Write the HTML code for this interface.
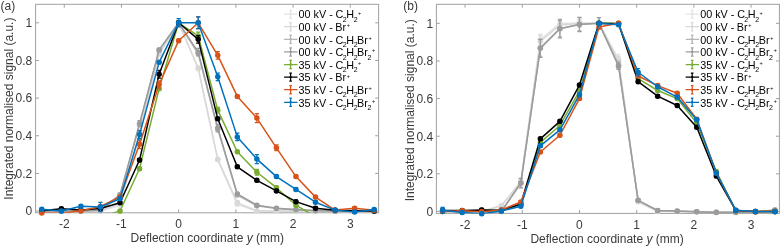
<!DOCTYPE html>
<html><head><meta charset="utf-8"><style>
html,body{margin:0;padding:0;background:#fff;width:781px;height:246px;overflow:hidden}
svg{display:block;will-change:transform}
.t{font-family:"Liberation Sans",sans-serif;font-size:12px;fill:#3a3a3a}
.lg{font-family:"Liberation Sans",sans-serif;font-size:10.8px;fill:#000}
.sub{font-size:7px}.sup{font-size:5.5px}
</style></head><body>
<svg width="781" height="246" viewBox="0 0 781 246">
<defs>
<clipPath id="ca"><rect x="35.6" y="4.3" width="343.00" height="208.50"/></clipPath>
<clipPath id="cb"><rect x="436.40000000000003" y="4.3" width="343.00" height="209.10"/></clipPath>
</defs>
<rect x="35.6" y="4.3" width="343.00" height="208.50" fill="none" stroke="#a0a0a0" stroke-width="1"/>
<path d="M64.26,212.8v-3.4M64.26,4.3v3.4M121.46,212.8v-3.4M121.46,4.3v3.4M178.66,212.8v-3.4M178.66,4.3v3.4M235.86,212.8v-3.4M235.86,4.3v3.4M293.06,212.8v-3.4M293.06,4.3v3.4M350.26,212.8v-3.4M350.26,4.3v3.4M35.6,211.05h3.4M378.6,211.05h-3.4M35.6,173.40h3.4M378.6,173.40h-3.4M35.6,135.75h3.4M378.6,135.75h-3.4M35.6,98.10h3.4M378.6,98.10h-3.4M35.6,60.45h3.4M378.6,60.45h-3.4M35.6,22.80h3.4M378.6,22.80h-3.4" stroke="#a0a0a0" stroke-width="1" fill="none"/>
<rect x="436.40000000000003" y="4.3" width="343.00" height="209.10" fill="none" stroke="#a0a0a0" stroke-width="1"/>
<path d="M465.06,213.4v-3.4M465.06,4.3v3.4M522.26,213.4v-3.4M522.26,4.3v3.4M579.46,213.4v-3.4M579.46,4.3v3.4M636.66,213.4v-3.4M636.66,4.3v3.4M693.86,213.4v-3.4M693.86,4.3v3.4M751.06,213.4v-3.4M751.06,4.3v3.4M436.40000000000003,211.45h3.4M779.4000000000001,211.45h-3.4M436.40000000000003,173.83h3.4M779.4000000000001,173.83h-3.4M436.40000000000003,136.21h3.4M779.4000000000001,136.21h-3.4M436.40000000000003,98.59h3.4M779.4000000000001,98.59h-3.4M436.40000000000003,60.97h3.4M779.4000000000001,60.97h-3.4M436.40000000000003,23.35h3.4M779.4000000000001,23.35h-3.4" stroke="#a0a0a0" stroke-width="1" fill="none"/>
<g>
<path d="M41.81,211.05 L61.36,211.05 L80.91,211.05 L100.46,211.05 L120.01,205.40 L139.56,135.75 L159.11,54.80 L178.66,22.80 L198.21,68.73 L217.76,159.85 L237.31,204.46 L256.86,211.05 L276.41,211.05 L295.96,211.05 L315.51,211.05 L335.06,211.05 L354.61,211.05 L374.16,211.05" fill="none" stroke="#e3e3e3" stroke-width="1.5" stroke-linejoin="round" clip-path="url(#ca)"/>
<path d="M41.81,209.54V212.56M39.71,209.54h4.2M39.71,212.56h4.2M61.36,209.54V212.56M59.26,209.54h4.2M59.26,212.56h4.2M80.91,209.54V212.56M78.81,209.54h4.2M78.81,212.56h4.2M100.46,209.54V212.56M98.36,209.54h4.2M98.36,212.56h4.2M120.01,203.90V206.91M117.91,203.90h4.2M117.91,206.91h4.2M139.56,134.24V137.26M137.46,134.24h4.2M137.46,137.26h4.2M159.11,53.30V56.31M157.01,53.30h4.2M157.01,56.31h4.2M178.66,21.29V24.31M176.56,21.29h4.2M176.56,24.31h4.2M198.21,67.23V70.24M196.11,67.23h4.2M196.11,70.24h4.2M217.76,158.34V161.35M215.66,158.34h4.2M215.66,161.35h4.2M237.31,202.96V205.97M235.21,202.96h4.2M235.21,205.97h4.2M256.86,209.54V212.56M254.76,209.54h4.2M254.76,212.56h4.2M276.41,209.54V212.56M274.31,209.54h4.2M274.31,212.56h4.2M295.96,209.54V212.56M293.86,209.54h4.2M293.86,212.56h4.2M315.51,209.54V212.56M313.41,209.54h4.2M313.41,212.56h4.2M335.06,209.54V212.56M332.96,209.54h4.2M332.96,212.56h4.2M354.61,209.54V212.56M352.51,209.54h4.2M352.51,212.56h4.2M374.16,209.54V212.56M372.06,209.54h4.2M372.06,212.56h4.2" fill="none" stroke="#e3e3e3" stroke-width="1.2"/>
<g fill="#e3e3e3"><circle cx="41.81" cy="211.05" r="2.75"/><circle cx="61.36" cy="211.05" r="2.75"/><circle cx="80.91" cy="211.05" r="2.75"/><circle cx="100.46" cy="211.05" r="2.75"/><circle cx="120.01" cy="205.40" r="2.75"/><circle cx="139.56" cy="135.75" r="2.75"/><circle cx="159.11" cy="54.80" r="2.75"/><circle cx="178.66" cy="22.80" r="2.75"/><circle cx="198.21" cy="68.73" r="2.75"/><circle cx="217.76" cy="159.85" r="2.75"/><circle cx="237.31" cy="204.46" r="2.75"/><circle cx="256.86" cy="211.05" r="2.75"/><circle cx="276.41" cy="211.05" r="2.75"/><circle cx="295.96" cy="211.05" r="2.75"/><circle cx="315.51" cy="211.05" r="2.75"/><circle cx="335.06" cy="211.05" r="2.75"/><circle cx="354.61" cy="211.05" r="2.75"/><circle cx="374.16" cy="211.05" r="2.75"/></g>
<path d="M41.81,211.05 L61.36,211.05 L80.91,211.05 L100.46,211.05 L120.01,203.52 L139.56,131.99 L159.11,52.92 L178.66,22.80 L198.21,67.98 L217.76,159.28 L237.31,202.58 L256.86,211.05 L276.41,211.05 L295.96,211.05 L315.51,211.05 L335.06,211.05 L354.61,211.05 L374.16,211.05" fill="none" stroke="#d8d8d8" stroke-width="1.5" stroke-linejoin="round" clip-path="url(#ca)"/>
<path d="M41.81,209.54V212.56M39.71,209.54h4.2M39.71,212.56h4.2M61.36,209.54V212.56M59.26,209.54h4.2M59.26,212.56h4.2M80.91,209.54V212.56M78.81,209.54h4.2M78.81,212.56h4.2M100.46,209.54V212.56M98.36,209.54h4.2M98.36,212.56h4.2M120.01,202.01V205.03M117.91,202.01h4.2M117.91,205.03h4.2M139.56,130.48V133.49M137.46,130.48h4.2M137.46,133.49h4.2M159.11,51.41V54.43M157.01,51.41h4.2M157.01,54.43h4.2M178.66,21.29V24.31M176.56,21.29h4.2M176.56,24.31h4.2M198.21,66.47V69.49M196.11,66.47h4.2M196.11,69.49h4.2M217.76,157.78V160.79M215.66,157.78h4.2M215.66,160.79h4.2M237.31,201.07V204.08M235.21,201.07h4.2M235.21,204.08h4.2M256.86,209.54V212.56M254.76,209.54h4.2M254.76,212.56h4.2M276.41,209.54V212.56M274.31,209.54h4.2M274.31,212.56h4.2M295.96,209.54V212.56M293.86,209.54h4.2M293.86,212.56h4.2M315.51,209.54V212.56M313.41,209.54h4.2M313.41,212.56h4.2M335.06,209.54V212.56M332.96,209.54h4.2M332.96,212.56h4.2M354.61,209.54V212.56M352.51,209.54h4.2M352.51,212.56h4.2M374.16,209.54V212.56M372.06,209.54h4.2M372.06,212.56h4.2" fill="none" stroke="#d8d8d8" stroke-width="1.2"/>
<g fill="#d8d8d8"><circle cx="41.81" cy="211.05" r="2.75"/><circle cx="61.36" cy="211.05" r="2.75"/><circle cx="80.91" cy="211.05" r="2.75"/><circle cx="100.46" cy="211.05" r="2.75"/><circle cx="120.01" cy="203.52" r="2.75"/><circle cx="139.56" cy="131.99" r="2.75"/><circle cx="159.11" cy="52.92" r="2.75"/><circle cx="178.66" cy="22.80" r="2.75"/><circle cx="198.21" cy="67.98" r="2.75"/><circle cx="217.76" cy="159.28" r="2.75"/><circle cx="237.31" cy="202.58" r="2.75"/><circle cx="256.86" cy="211.05" r="2.75"/><circle cx="276.41" cy="211.05" r="2.75"/><circle cx="295.96" cy="211.05" r="2.75"/><circle cx="315.51" cy="211.05" r="2.75"/><circle cx="335.06" cy="211.05" r="2.75"/><circle cx="354.61" cy="211.05" r="2.75"/><circle cx="374.16" cy="211.05" r="2.75"/></g>
<path d="M41.81,211.05 L61.36,211.05 L80.91,211.05 L100.46,210.49 L120.01,195.99 L139.56,124.46 L159.11,50.10 L178.66,22.80 L198.21,53.86 L217.76,129.16 L237.31,195.05 L256.86,205.78 L276.41,208.60 L295.96,209.92 L315.51,210.67 L335.06,211.05 L354.61,211.05 L374.16,211.05" fill="none" stroke="#b5b5b5" stroke-width="1.5" stroke-linejoin="round" clip-path="url(#ca)"/>
<path d="M41.81,209.54V212.56M39.71,209.54h4.2M39.71,212.56h4.2M61.36,209.54V212.56M59.26,209.54h4.2M59.26,212.56h4.2M80.91,209.54V212.56M78.81,209.54h4.2M78.81,212.56h4.2M100.46,208.98V211.99M98.36,208.98h4.2M98.36,211.99h4.2M120.01,194.48V197.50M117.91,194.48h4.2M117.91,197.50h4.2M139.56,122.95V125.96M137.46,122.95h4.2M137.46,125.96h4.2M159.11,48.59V51.60M157.01,48.59h4.2M157.01,51.60h4.2M178.66,21.29V24.31M176.56,21.29h4.2M176.56,24.31h4.2M198.21,52.36V55.37M196.11,52.36h4.2M196.11,55.37h4.2M217.76,127.66V130.67M215.66,127.66h4.2M215.66,130.67h4.2M237.31,193.54V196.55M235.21,193.54h4.2M235.21,196.55h4.2M256.86,204.27V207.29M254.76,204.27h4.2M254.76,207.29h4.2M276.41,207.10V210.11M274.31,207.10h4.2M274.31,210.11h4.2M295.96,208.41V211.43M293.86,208.41h4.2M293.86,211.43h4.2M315.51,209.17V212.18M313.41,209.17h4.2M313.41,212.18h4.2M335.06,209.54V212.56M332.96,209.54h4.2M332.96,212.56h4.2M354.61,209.54V212.56M352.51,209.54h4.2M352.51,212.56h4.2M374.16,209.54V212.56M372.06,209.54h4.2M372.06,212.56h4.2" fill="none" stroke="#b5b5b5" stroke-width="1.2"/>
<g fill="#b5b5b5"><circle cx="41.81" cy="211.05" r="2.75"/><circle cx="61.36" cy="211.05" r="2.75"/><circle cx="80.91" cy="211.05" r="2.75"/><circle cx="100.46" cy="210.49" r="2.75"/><circle cx="120.01" cy="195.99" r="2.75"/><circle cx="139.56" cy="124.46" r="2.75"/><circle cx="159.11" cy="50.10" r="2.75"/><circle cx="178.66" cy="22.80" r="2.75"/><circle cx="198.21" cy="53.86" r="2.75"/><circle cx="217.76" cy="129.16" r="2.75"/><circle cx="237.31" cy="195.05" r="2.75"/><circle cx="256.86" cy="205.78" r="2.75"/><circle cx="276.41" cy="208.60" r="2.75"/><circle cx="295.96" cy="209.92" r="2.75"/><circle cx="315.51" cy="210.67" r="2.75"/><circle cx="335.06" cy="211.05" r="2.75"/><circle cx="354.61" cy="211.05" r="2.75"/><circle cx="374.16" cy="211.05" r="2.75"/></g>
<path d="M41.81,211.05 L61.36,211.05 L80.91,211.05 L100.46,210.11 L120.01,194.67 L139.56,123.51 L159.11,49.91 L178.66,22.80 L198.21,52.17 L217.76,128.03 L237.31,193.92 L256.86,205.21 L276.41,208.23 L295.96,209.54 L315.51,210.49 L335.06,211.05 L354.61,211.05 L374.16,211.05" fill="none" stroke="#9c9c9c" stroke-width="1.5" stroke-linejoin="round" clip-path="url(#ca)"/>
<path d="M41.81,209.54V212.56M39.71,209.54h4.2M39.71,212.56h4.2M61.36,209.54V212.56M59.26,209.54h4.2M59.26,212.56h4.2M80.91,209.54V212.56M78.81,209.54h4.2M78.81,212.56h4.2M100.46,208.60V211.61M98.36,208.60h4.2M98.36,211.61h4.2M120.01,193.17V196.18M117.91,193.17h4.2M117.91,196.18h4.2M139.56,120.69V126.34M137.46,120.69h4.2M137.46,126.34h4.2M159.11,48.40V51.41M157.01,48.40h4.2M157.01,51.41h4.2M178.66,21.29V24.31M176.56,21.29h4.2M176.56,24.31h4.2M198.21,48.40V55.93M196.11,48.40h4.2M196.11,55.93h4.2M217.76,124.27V131.80M215.66,124.27h4.2M215.66,131.80h4.2M237.31,192.41V195.43M235.21,192.41h4.2M235.21,195.43h4.2M256.86,203.71V206.72M254.76,203.71h4.2M254.76,206.72h4.2M276.41,206.72V209.73M274.31,206.72h4.2M274.31,209.73h4.2M295.96,208.04V211.05M293.86,208.04h4.2M293.86,211.05h4.2M315.51,208.98V211.99M313.41,208.98h4.2M313.41,211.99h4.2M335.06,209.54V212.56M332.96,209.54h4.2M332.96,212.56h4.2M354.61,209.54V212.56M352.51,209.54h4.2M352.51,212.56h4.2M374.16,209.54V212.56M372.06,209.54h4.2M372.06,212.56h4.2" fill="none" stroke="#9c9c9c" stroke-width="1.2"/>
<g fill="#9c9c9c"><circle cx="41.81" cy="211.05" r="2.75"/><circle cx="61.36" cy="211.05" r="2.75"/><circle cx="80.91" cy="211.05" r="2.75"/><circle cx="100.46" cy="210.11" r="2.75"/><circle cx="120.01" cy="194.67" r="2.75"/><circle cx="139.56" cy="123.51" r="2.75"/><circle cx="159.11" cy="49.91" r="2.75"/><circle cx="178.66" cy="22.80" r="2.75"/><circle cx="198.21" cy="52.17" r="2.75"/><circle cx="217.76" cy="128.03" r="2.75"/><circle cx="237.31" cy="193.92" r="2.75"/><circle cx="256.86" cy="205.21" r="2.75"/><circle cx="276.41" cy="208.23" r="2.75"/><circle cx="295.96" cy="209.54" r="2.75"/><circle cx="315.51" cy="210.49" r="2.75"/><circle cx="335.06" cy="211.05" r="2.75"/><circle cx="354.61" cy="211.05" r="2.75"/><circle cx="374.16" cy="211.05" r="2.75"/></g>
<path d="M41.81,217.64 L61.36,217.64 L80.91,217.64 L100.46,217.26 L120.01,211.05 L139.56,168.69 L159.11,88.69 L178.66,22.80 L198.21,35.98 L217.76,110.15 L237.31,151.75 L256.86,172.27 L276.41,187.71 L295.96,205.21 L315.51,216.70 L335.06,216.70 L354.61,216.70 L374.16,216.70" fill="none" stroke="#77ac30" stroke-width="1.5" stroke-linejoin="round" clip-path="url(#ca)"/>
<path d="M120.01,209.54V212.56M117.91,209.54h4.2M117.91,212.56h4.2M139.56,167.19V170.20M137.46,167.19h4.2M137.46,170.20h4.2M159.11,87.18V90.19M157.01,87.18h4.2M157.01,90.19h4.2M178.66,21.29V24.31M176.56,21.29h4.2M176.56,24.31h4.2M198.21,32.21V39.74M196.11,32.21h4.2M196.11,39.74h4.2M217.76,107.32V112.97M215.66,107.32h4.2M215.66,112.97h4.2M237.31,150.25V153.26M235.21,150.25h4.2M235.21,153.26h4.2M256.86,169.45V175.09M254.76,169.45h4.2M254.76,175.09h4.2M276.41,186.20V189.21M274.31,186.20h4.2M274.31,189.21h4.2M295.96,203.71V206.72M293.86,203.71h4.2M293.86,206.72h4.2" fill="none" stroke="#77ac30" stroke-width="1.2"/>
<g fill="#77ac30"><circle cx="120.01" cy="211.05" r="2.75"/><circle cx="139.56" cy="168.69" r="2.75"/><circle cx="159.11" cy="88.69" r="2.75"/><circle cx="178.66" cy="22.80" r="2.75"/><circle cx="198.21" cy="35.98" r="2.75"/><circle cx="217.76" cy="110.15" r="2.75"/><circle cx="237.31" cy="151.75" r="2.75"/><circle cx="256.86" cy="172.27" r="2.75"/><circle cx="276.41" cy="187.71" r="2.75"/><circle cx="295.96" cy="205.21" r="2.75"/></g>
<path d="M41.81,210.67 L61.36,208.79 L80.91,210.11 L100.46,208.41 L120.01,202.77 L139.56,160.03 L159.11,74.19 L178.66,22.80 L198.21,39.37 L217.76,118.81 L237.31,166.81 L256.86,180.37 L276.41,190.91 L295.96,201.64 L315.51,208.23 L335.06,210.30 L354.61,210.67 L374.16,211.05" fill="none" stroke="#000000" stroke-width="1.5" stroke-linejoin="round" clip-path="url(#ca)"/>
<path d="M41.81,209.17V212.18M39.71,209.17h4.2M39.71,212.18h4.2M61.36,207.29V210.30M59.26,207.29h4.2M59.26,210.30h4.2M80.91,208.60V211.61M78.81,208.60h4.2M78.81,211.61h4.2M100.46,206.91V209.92M98.36,206.91h4.2M98.36,209.92h4.2M120.01,201.26V204.27M117.91,201.26h4.2M117.91,204.27h4.2M139.56,158.53V161.54M137.46,158.53h4.2M137.46,161.54h4.2M159.11,70.24V78.15M157.01,70.24h4.2M157.01,78.15h4.2M178.66,21.29V24.31M176.56,21.29h4.2M176.56,24.31h4.2M198.21,35.60V43.13M196.11,35.60h4.2M196.11,43.13h4.2M217.76,117.30V120.31M215.66,117.30h4.2M215.66,120.31h4.2M237.31,165.31V168.32M235.21,165.31h4.2M235.21,168.32h4.2M256.86,178.86V181.87M254.76,178.86h4.2M254.76,181.87h4.2M276.41,189.40V192.41M274.31,189.40h4.2M274.31,192.41h4.2M295.96,200.13V203.14M293.86,200.13h4.2M293.86,203.14h4.2M315.51,206.72V209.73M313.41,206.72h4.2M313.41,209.73h4.2M335.06,208.79V211.80M332.96,208.79h4.2M332.96,211.80h4.2M354.61,209.17V212.18M352.51,209.17h4.2M352.51,212.18h4.2M374.16,209.54V212.56M372.06,209.54h4.2M372.06,212.56h4.2" fill="none" stroke="#000000" stroke-width="1.2"/>
<g fill="#000000"><circle cx="41.81" cy="210.67" r="2.75"/><circle cx="61.36" cy="208.79" r="2.75"/><circle cx="80.91" cy="210.11" r="2.75"/><circle cx="100.46" cy="208.41" r="2.75"/><circle cx="120.01" cy="202.77" r="2.75"/><circle cx="139.56" cy="160.03" r="2.75"/><circle cx="159.11" cy="74.19" r="2.75"/><circle cx="178.66" cy="22.80" r="2.75"/><circle cx="198.21" cy="39.37" r="2.75"/><circle cx="217.76" cy="118.81" r="2.75"/><circle cx="237.31" cy="166.81" r="2.75"/><circle cx="256.86" cy="180.37" r="2.75"/><circle cx="276.41" cy="190.91" r="2.75"/><circle cx="295.96" cy="201.64" r="2.75"/><circle cx="315.51" cy="208.23" r="2.75"/><circle cx="335.06" cy="210.30" r="2.75"/><circle cx="354.61" cy="210.67" r="2.75"/><circle cx="374.16" cy="211.05" r="2.75"/></g>
<path d="M41.81,212.93 L61.36,213.31 L80.91,210.86 L100.46,206.53 L120.01,196.93 L139.56,144.22 L159.11,84.55 L178.66,40.68 L198.21,22.80 L217.76,55.37 L237.31,96.41 L256.86,118.05 L276.41,147.80 L295.96,176.60 L315.51,197.12 L335.06,210.11 L354.61,208.23 L374.16,210.30" fill="none" stroke="#d95319" stroke-width="1.5" stroke-linejoin="round" clip-path="url(#ca)"/>
<path d="M41.81,211.43V214.44M39.71,211.43h4.2M39.71,214.44h4.2M80.91,209.36V212.37M78.81,209.36h4.2M78.81,212.37h4.2M100.46,205.03V208.04M98.36,205.03h4.2M98.36,208.04h4.2M120.01,195.43V198.44M117.91,195.43h4.2M117.91,198.44h4.2M139.56,139.89V148.55M137.46,139.89h4.2M137.46,148.55h4.2M159.11,80.97V88.12M157.01,80.97h4.2M157.01,88.12h4.2M178.66,39.18V42.19M176.56,39.18h4.2M176.56,42.19h4.2M198.21,16.96V28.64M196.11,16.96h4.2M196.11,28.64h4.2M217.76,51.60V59.13M215.66,51.60h4.2M215.66,59.13h4.2M237.31,94.90V97.91M235.21,94.90h4.2M235.21,97.91h4.2M256.86,113.54V122.57M254.76,113.54h4.2M254.76,122.57h4.2M276.41,144.97V150.62M274.31,144.97h4.2M274.31,150.62h4.2M295.96,175.09V178.11M293.86,175.09h4.2M293.86,178.11h4.2M315.51,195.61V198.63M313.41,195.61h4.2M313.41,198.63h4.2M335.06,208.60V211.61M332.96,208.60h4.2M332.96,211.61h4.2M354.61,206.72V209.73M352.51,206.72h4.2M352.51,209.73h4.2M374.16,208.79V211.80M372.06,208.79h4.2M372.06,211.80h4.2" fill="none" stroke="#d95319" stroke-width="1.2"/>
<g fill="#d95319"><circle cx="41.81" cy="212.93" r="2.75"/><circle cx="80.91" cy="210.86" r="2.75"/><circle cx="100.46" cy="206.53" r="2.75"/><circle cx="120.01" cy="196.93" r="2.75"/><circle cx="139.56" cy="144.22" r="2.75"/><circle cx="159.11" cy="84.55" r="2.75"/><circle cx="178.66" cy="40.68" r="2.75"/><circle cx="198.21" cy="22.80" r="2.75"/><circle cx="217.76" cy="55.37" r="2.75"/><circle cx="237.31" cy="96.41" r="2.75"/><circle cx="256.86" cy="118.05" r="2.75"/><circle cx="276.41" cy="147.80" r="2.75"/><circle cx="295.96" cy="176.60" r="2.75"/><circle cx="315.51" cy="197.12" r="2.75"/><circle cx="335.06" cy="210.11" r="2.75"/><circle cx="354.61" cy="208.23" r="2.75"/><circle cx="374.16" cy="210.30" r="2.75"/></g>
<path d="M41.81,209.26 L61.36,211.05 L80.91,206.34 L100.46,206.91 L120.01,198.81 L139.56,134.62 L159.11,62.33 L178.66,22.80 L198.21,22.80 L217.76,76.83 L237.31,136.88 L256.86,159.09 L276.41,176.60 L295.96,189.40 L315.51,202.20 L335.06,210.11 L354.61,211.99 L374.16,209.54" fill="none" stroke="#0072bd" stroke-width="1.5" stroke-linejoin="round" clip-path="url(#ca)"/>
<path d="M41.81,207.76V210.77M39.71,207.76h4.2M39.71,210.77h4.2M61.36,209.54V212.56M59.26,209.54h4.2M59.26,212.56h4.2M80.91,204.84V207.85M78.81,204.84h4.2M78.81,207.85h4.2M100.46,202.39V211.43M98.36,202.39h4.2M98.36,211.43h4.2M120.01,197.31V200.32M117.91,197.31h4.2M117.91,200.32h4.2M139.56,130.67V138.57M137.46,130.67h4.2M137.46,138.57h4.2M159.11,60.83V63.84M157.01,60.83h4.2M157.01,63.84h4.2M178.66,18.66V26.94M176.56,18.66h4.2M176.56,26.94h4.2M198.21,16.96V28.64M196.11,16.96h4.2M196.11,28.64h4.2M217.76,73.06V80.59M215.66,73.06h4.2M215.66,80.59h4.2M237.31,133.11V140.64M235.21,133.11h4.2M235.21,140.64h4.2M256.86,154.58V163.61M254.76,154.58h4.2M254.76,163.61h4.2M276.41,175.09V178.11M274.31,175.09h4.2M274.31,178.11h4.2M295.96,187.90V190.91M293.86,187.90h4.2M293.86,190.91h4.2M315.51,200.70V203.71M313.41,200.70h4.2M313.41,203.71h4.2M335.06,208.60V211.61M332.96,208.60h4.2M332.96,211.61h4.2M354.61,210.49V213.50M352.51,210.49h4.2M352.51,213.50h4.2M374.16,208.04V211.05M372.06,208.04h4.2M372.06,211.05h4.2" fill="none" stroke="#0072bd" stroke-width="1.2"/>
<g fill="#0072bd"><circle cx="41.81" cy="209.26" r="2.75"/><circle cx="61.36" cy="211.05" r="2.75"/><circle cx="80.91" cy="206.34" r="2.75"/><circle cx="100.46" cy="206.91" r="2.75"/><circle cx="120.01" cy="198.81" r="2.75"/><circle cx="139.56" cy="134.62" r="2.75"/><circle cx="159.11" cy="62.33" r="2.75"/><circle cx="178.66" cy="22.80" r="2.75"/><circle cx="198.21" cy="22.80" r="2.75"/><circle cx="217.76" cy="76.83" r="2.75"/><circle cx="237.31" cy="136.88" r="2.75"/><circle cx="256.86" cy="159.09" r="2.75"/><circle cx="276.41" cy="176.60" r="2.75"/><circle cx="295.96" cy="189.40" r="2.75"/><circle cx="315.51" cy="202.20" r="2.75"/><circle cx="335.06" cy="210.11" r="2.75"/><circle cx="354.61" cy="211.99" r="2.75"/><circle cx="374.16" cy="209.54" r="2.75"/></g>
</g>
<g>
<path d="M442.61,211.45 L462.16,211.45 L481.71,211.45 L501.26,205.81 L520.81,181.35 L540.36,39.71 L559.91,23.35 L579.46,23.35 L599.01,23.35 L618.56,59.09 L638.11,202.04 L657.66,211.45 L677.21,211.45 L696.76,211.83 L716.31,212.01 L735.86,212.01 L755.41,212.01 L774.96,210.70" fill="none" stroke="#e3e3e3" stroke-width="1.5" stroke-linejoin="round" clip-path="url(#cb)"/>
<path d="M442.61,209.95V212.95M440.51,209.95h4.2M440.51,212.95h4.2M462.16,209.95V212.95M460.06,209.95h4.2M460.06,212.95h4.2M481.71,209.95V212.95M479.61,209.95h4.2M479.61,212.95h4.2M501.26,204.30V207.31M499.16,204.30h4.2M499.16,207.31h4.2M520.81,179.85V182.86M518.71,179.85h4.2M518.71,182.86h4.2M540.36,34.07V45.36M538.26,34.07h4.2M538.26,45.36h4.2M559.91,18.65V28.05M557.81,18.65h4.2M557.81,28.05h4.2M579.46,19.59V27.11M577.36,19.59h4.2M577.36,27.11h4.2M599.01,21.85V24.85M596.91,21.85h4.2M596.91,24.85h4.2M618.56,54.39V63.79M616.46,54.39h4.2M616.46,63.79h4.2M638.11,200.54V203.55M636.01,200.54h4.2M636.01,203.55h4.2M657.66,209.95V212.95M655.56,209.95h4.2M655.56,212.95h4.2M677.21,209.95V212.95M675.11,209.95h4.2M675.11,212.95h4.2M696.76,210.32V213.33M694.66,210.32h4.2M694.66,213.33h4.2M716.31,210.51V213.52M714.21,210.51h4.2M714.21,213.52h4.2M735.86,210.51V213.52M733.76,210.51h4.2M733.76,213.52h4.2M755.41,210.51V213.52M753.31,210.51h4.2M753.31,213.52h4.2M774.96,209.19V212.20M772.86,209.19h4.2M772.86,212.20h4.2" fill="none" stroke="#e3e3e3" stroke-width="1.2"/>
<g fill="#e3e3e3"><circle cx="442.61" cy="211.45" r="2.75"/><circle cx="462.16" cy="211.45" r="2.75"/><circle cx="481.71" cy="211.45" r="2.75"/><circle cx="501.26" cy="205.81" r="2.75"/><circle cx="520.81" cy="181.35" r="2.75"/><circle cx="540.36" cy="39.71" r="2.75"/><circle cx="559.91" cy="23.35" r="2.75"/><circle cx="579.46" cy="23.35" r="2.75"/><circle cx="599.01" cy="23.35" r="2.75"/><circle cx="618.56" cy="59.09" r="2.75"/><circle cx="638.11" cy="202.04" r="2.75"/><circle cx="657.66" cy="211.45" r="2.75"/><circle cx="677.21" cy="211.45" r="2.75"/><circle cx="696.76" cy="211.83" r="2.75"/><circle cx="716.31" cy="212.01" r="2.75"/><circle cx="735.86" cy="212.01" r="2.75"/><circle cx="755.41" cy="212.01" r="2.75"/><circle cx="774.96" cy="210.70" r="2.75"/></g>
<path d="M442.61,211.45 L462.16,211.45 L481.71,211.45 L501.26,205.81 L520.81,182.29 L540.36,41.22 L559.91,25.23 L579.46,23.35 L599.01,23.35 L618.56,60.97 L638.11,201.10 L657.66,211.07 L677.21,211.45 L696.76,211.83 L716.31,212.01 L735.86,212.01 L755.41,212.01 L774.96,210.70" fill="none" stroke="#d8d8d8" stroke-width="1.5" stroke-linejoin="round" clip-path="url(#cb)"/>
<path d="M442.61,209.95V212.95M440.51,209.95h4.2M440.51,212.95h4.2M462.16,209.95V212.95M460.06,209.95h4.2M460.06,212.95h4.2M481.71,209.95V212.95M479.61,209.95h4.2M479.61,212.95h4.2M501.26,204.30V207.31M499.16,204.30h4.2M499.16,207.31h4.2M520.81,180.79V183.80M518.71,180.79h4.2M518.71,183.80h4.2M540.36,35.58V46.86M538.26,35.58h4.2M538.26,46.86h4.2M559.91,21.47V28.99M557.81,21.47h4.2M557.81,28.99h4.2M579.46,19.59V27.11M577.36,19.59h4.2M577.36,27.11h4.2M599.01,21.85V24.85M596.91,21.85h4.2M596.91,24.85h4.2M618.56,56.27V65.67M616.46,56.27h4.2M616.46,65.67h4.2M638.11,199.60V202.61M636.01,199.60h4.2M636.01,202.61h4.2M657.66,209.57V212.58M655.56,209.57h4.2M655.56,212.58h4.2M677.21,209.95V212.95M675.11,209.95h4.2M675.11,212.95h4.2M696.76,210.32V213.33M694.66,210.32h4.2M694.66,213.33h4.2M716.31,210.51V213.52M714.21,210.51h4.2M714.21,213.52h4.2M735.86,210.51V213.52M733.76,210.51h4.2M733.76,213.52h4.2M755.41,210.51V213.52M753.31,210.51h4.2M753.31,213.52h4.2M774.96,209.19V212.20M772.86,209.19h4.2M772.86,212.20h4.2" fill="none" stroke="#d8d8d8" stroke-width="1.2"/>
<g fill="#d8d8d8"><circle cx="442.61" cy="211.45" r="2.75"/><circle cx="462.16" cy="211.45" r="2.75"/><circle cx="481.71" cy="211.45" r="2.75"/><circle cx="501.26" cy="205.81" r="2.75"/><circle cx="520.81" cy="182.29" r="2.75"/><circle cx="540.36" cy="41.22" r="2.75"/><circle cx="559.91" cy="25.23" r="2.75"/><circle cx="579.46" cy="23.35" r="2.75"/><circle cx="599.01" cy="23.35" r="2.75"/><circle cx="618.56" cy="60.97" r="2.75"/><circle cx="638.11" cy="201.10" r="2.75"/><circle cx="657.66" cy="211.07" r="2.75"/><circle cx="677.21" cy="211.45" r="2.75"/><circle cx="696.76" cy="211.83" r="2.75"/><circle cx="716.31" cy="212.01" r="2.75"/><circle cx="735.86" cy="212.01" r="2.75"/><circle cx="755.41" cy="212.01" r="2.75"/><circle cx="774.96" cy="210.70" r="2.75"/></g>
<path d="M442.61,211.45 L462.16,211.45 L481.71,211.45 L501.26,211.45 L520.81,183.23 L540.36,47.80 L559.91,28.62 L579.46,24.29 L599.01,23.35 L618.56,65.11 L638.11,200.54 L657.66,210.70 L677.21,211.26 L696.76,211.83 L716.31,212.20 L735.86,212.20 L755.41,212.01 L774.96,210.32" fill="none" stroke="#b5b5b5" stroke-width="1.5" stroke-linejoin="round" clip-path="url(#cb)"/>
<path d="M442.61,209.95V212.95M440.51,209.95h4.2M440.51,212.95h4.2M462.16,209.95V212.95M460.06,209.95h4.2M460.06,212.95h4.2M481.71,209.95V212.95M479.61,209.95h4.2M479.61,212.95h4.2M501.26,209.95V212.95M499.16,209.95h4.2M499.16,212.95h4.2M520.81,178.53V187.94M518.71,178.53h4.2M518.71,187.94h4.2M540.36,39.34V56.27M538.26,39.34h4.2M538.26,56.27h4.2M559.91,20.15V37.08M557.81,20.15h4.2M557.81,37.08h4.2M579.46,17.71V30.87M577.36,17.71h4.2M577.36,30.87h4.2M599.01,17.71V28.99M596.91,17.71h4.2M596.91,28.99h4.2M618.56,61.35V68.87M616.46,61.35h4.2M616.46,68.87h4.2M638.11,199.04V202.04M636.01,199.04h4.2M636.01,202.04h4.2M657.66,209.19V212.20M655.56,209.19h4.2M655.56,212.20h4.2M677.21,209.76V212.77M675.11,209.76h4.2M675.11,212.77h4.2M696.76,210.32V213.33M694.66,210.32h4.2M694.66,213.33h4.2M716.31,210.70V213.71M714.21,210.70h4.2M714.21,213.71h4.2M735.86,210.70V213.71M733.76,210.70h4.2M733.76,213.71h4.2M755.41,210.51V213.52M753.31,210.51h4.2M753.31,213.52h4.2M774.96,208.82V211.83M772.86,208.82h4.2M772.86,211.83h4.2" fill="none" stroke="#b5b5b5" stroke-width="1.2"/>
<g fill="#b5b5b5"><circle cx="442.61" cy="211.45" r="2.75"/><circle cx="462.16" cy="211.45" r="2.75"/><circle cx="481.71" cy="211.45" r="2.75"/><circle cx="501.26" cy="211.45" r="2.75"/><circle cx="520.81" cy="183.23" r="2.75"/><circle cx="540.36" cy="47.80" r="2.75"/><circle cx="559.91" cy="28.62" r="2.75"/><circle cx="579.46" cy="24.29" r="2.75"/><circle cx="599.01" cy="23.35" r="2.75"/><circle cx="618.56" cy="65.11" r="2.75"/><circle cx="638.11" cy="200.54" r="2.75"/><circle cx="657.66" cy="210.70" r="2.75"/><circle cx="677.21" cy="211.26" r="2.75"/><circle cx="696.76" cy="211.83" r="2.75"/><circle cx="716.31" cy="212.20" r="2.75"/><circle cx="735.86" cy="212.20" r="2.75"/><circle cx="755.41" cy="212.01" r="2.75"/><circle cx="774.96" cy="210.32" r="2.75"/></g>
<path d="M442.61,211.45 L462.16,211.45 L481.71,211.45 L501.26,211.45 L520.81,183.05 L540.36,48.37 L559.91,28.80 L579.46,24.48 L599.01,23.35 L618.56,66.24 L638.11,200.35 L657.66,210.51 L677.21,211.07 L696.76,211.83 L716.31,212.39 L735.86,212.39 L755.41,212.01 L774.96,209.95" fill="none" stroke="#9c9c9c" stroke-width="1.5" stroke-linejoin="round" clip-path="url(#cb)"/>
<path d="M442.61,209.95V212.95M440.51,209.95h4.2M440.51,212.95h4.2M462.16,209.95V212.95M460.06,209.95h4.2M460.06,212.95h4.2M481.71,209.95V212.95M479.61,209.95h4.2M479.61,212.95h4.2M501.26,209.95V212.95M499.16,209.95h4.2M499.16,212.95h4.2M520.81,178.34V187.75M518.71,178.34h4.2M518.71,187.75h4.2M540.36,39.34V57.40M538.26,39.34h4.2M538.26,57.40h4.2M559.91,19.78V37.83M557.81,19.78h4.2M557.81,37.83h4.2M579.46,17.33V31.63M577.36,17.33h4.2M577.36,31.63h4.2M599.01,17.71V28.99M596.91,17.71h4.2M596.91,28.99h4.2M618.56,63.04V69.43M616.46,63.04h4.2M616.46,69.43h4.2M638.11,198.85V201.86M636.01,198.85h4.2M636.01,201.86h4.2M657.66,209.00V212.01M655.56,209.00h4.2M655.56,212.01h4.2M677.21,209.57V212.58M675.11,209.57h4.2M675.11,212.58h4.2M696.76,210.32V213.33M694.66,210.32h4.2M694.66,213.33h4.2M716.31,210.89V213.90M714.21,210.89h4.2M714.21,213.90h4.2M735.86,210.89V213.90M733.76,210.89h4.2M733.76,213.90h4.2M755.41,210.51V213.52M753.31,210.51h4.2M753.31,213.52h4.2M774.96,208.44V211.45M772.86,208.44h4.2M772.86,211.45h4.2" fill="none" stroke="#9c9c9c" stroke-width="1.2"/>
<g fill="#9c9c9c"><circle cx="442.61" cy="211.45" r="2.75"/><circle cx="462.16" cy="211.45" r="2.75"/><circle cx="481.71" cy="211.45" r="2.75"/><circle cx="501.26" cy="211.45" r="2.75"/><circle cx="520.81" cy="183.05" r="2.75"/><circle cx="540.36" cy="48.37" r="2.75"/><circle cx="559.91" cy="28.80" r="2.75"/><circle cx="579.46" cy="24.48" r="2.75"/><circle cx="599.01" cy="23.35" r="2.75"/><circle cx="618.56" cy="66.24" r="2.75"/><circle cx="638.11" cy="200.35" r="2.75"/><circle cx="657.66" cy="210.51" r="2.75"/><circle cx="677.21" cy="211.07" r="2.75"/><circle cx="696.76" cy="211.83" r="2.75"/><circle cx="716.31" cy="212.39" r="2.75"/><circle cx="735.86" cy="212.39" r="2.75"/><circle cx="755.41" cy="212.01" r="2.75"/><circle cx="774.96" cy="209.95" r="2.75"/></g>
<path d="M442.61,211.07 L462.16,211.45 L481.71,210.51 L501.26,210.51 L520.81,204.87 L540.36,142.42 L559.91,125.49 L579.46,91.07 L599.01,23.35 L618.56,23.35 L638.11,78.65 L657.66,90.50 L677.21,98.59 L696.76,123.04 L716.31,171.57 L735.86,210.70 L755.41,211.45 L774.96,211.45" fill="none" stroke="#77ac30" stroke-width="1.5" stroke-linejoin="round" clip-path="url(#cb)"/>
<path d="M442.61,209.57V212.58M440.51,209.57h4.2M440.51,212.58h4.2M462.16,209.95V212.95M460.06,209.95h4.2M460.06,212.95h4.2M481.71,209.00V212.01M479.61,209.00h4.2M479.61,212.01h4.2M501.26,209.00V212.01M499.16,209.00h4.2M499.16,212.01h4.2M520.81,203.36V206.37M518.71,203.36h4.2M518.71,206.37h4.2M540.36,140.91V143.92M538.26,140.91h4.2M538.26,143.92h4.2M559.91,123.98V126.99M557.81,123.98h4.2M557.81,126.99h4.2M579.46,89.56V92.57M577.36,89.56h4.2M577.36,92.57h4.2M599.01,21.85V24.85M596.91,21.85h4.2M596.91,24.85h4.2M618.56,21.85V24.85M616.46,21.85h4.2M616.46,24.85h4.2M638.11,77.15V80.16M636.01,77.15h4.2M636.01,80.16h4.2M657.66,89.00V92.01M655.56,89.00h4.2M655.56,92.01h4.2M677.21,97.09V100.09M675.11,97.09h4.2M675.11,100.09h4.2M696.76,121.54V124.55M694.66,121.54h4.2M694.66,124.55h4.2M716.31,170.07V173.08M714.21,170.07h4.2M714.21,173.08h4.2M735.86,209.19V212.20M733.76,209.19h4.2M733.76,212.20h4.2M755.41,209.95V212.95M753.31,209.95h4.2M753.31,212.95h4.2M774.96,209.95V212.95M772.86,209.95h4.2M772.86,212.95h4.2" fill="none" stroke="#77ac30" stroke-width="1.2"/>
<g fill="#77ac30"><circle cx="442.61" cy="211.07" r="2.75"/><circle cx="462.16" cy="211.45" r="2.75"/><circle cx="481.71" cy="210.51" r="2.75"/><circle cx="501.26" cy="210.51" r="2.75"/><circle cx="520.81" cy="204.87" r="2.75"/><circle cx="540.36" cy="142.42" r="2.75"/><circle cx="559.91" cy="125.49" r="2.75"/><circle cx="579.46" cy="91.07" r="2.75"/><circle cx="599.01" cy="23.35" r="2.75"/><circle cx="618.56" cy="23.35" r="2.75"/><circle cx="638.11" cy="78.65" r="2.75"/><circle cx="657.66" cy="90.50" r="2.75"/><circle cx="677.21" cy="98.59" r="2.75"/><circle cx="696.76" cy="123.04" r="2.75"/><circle cx="716.31" cy="171.57" r="2.75"/><circle cx="735.86" cy="210.70" r="2.75"/><circle cx="755.41" cy="211.45" r="2.75"/><circle cx="774.96" cy="211.45" r="2.75"/></g>
<path d="M442.61,210.51 L462.16,210.51 L481.71,209.95 L501.26,210.32 L520.81,203.93 L540.36,138.84 L559.91,121.35 L579.46,85.05 L599.01,23.35 L618.56,23.73 L638.11,81.66 L657.66,96.14 L677.21,105.55 L696.76,127.18 L716.31,176.09 L735.86,210.51 L755.41,211.45 L774.96,211.45" fill="none" stroke="#000000" stroke-width="1.5" stroke-linejoin="round" clip-path="url(#cb)"/>
<path d="M442.61,209.00V212.01M440.51,209.00h4.2M440.51,212.01h4.2M462.16,209.00V212.01M460.06,209.00h4.2M460.06,212.01h4.2M481.71,208.44V211.45M479.61,208.44h4.2M479.61,211.45h4.2M501.26,208.82V211.83M499.16,208.82h4.2M499.16,211.83h4.2M520.81,202.42V205.43M518.71,202.42h4.2M518.71,205.43h4.2M540.36,137.34V140.35M538.26,137.34h4.2M538.26,140.35h4.2M559.91,119.85V122.85M557.81,119.85h4.2M557.81,122.85h4.2M579.46,83.54V86.55M577.36,83.54h4.2M577.36,86.55h4.2M599.01,21.85V24.85M596.91,21.85h4.2M596.91,24.85h4.2M618.56,22.22V25.23M616.46,22.22h4.2M616.46,25.23h4.2M638.11,80.16V83.17M636.01,80.16h4.2M636.01,83.17h4.2M657.66,94.64V97.65M655.56,94.64h4.2M655.56,97.65h4.2M677.21,104.04V107.05M675.11,104.04h4.2M675.11,107.05h4.2M696.76,125.68V128.69M694.66,125.68h4.2M694.66,128.69h4.2M716.31,174.58V177.59M714.21,174.58h4.2M714.21,177.59h4.2M735.86,209.00V212.01M733.76,209.00h4.2M733.76,212.01h4.2M755.41,209.95V212.95M753.31,209.95h4.2M753.31,212.95h4.2M774.96,209.95V212.95M772.86,209.95h4.2M772.86,212.95h4.2" fill="none" stroke="#000000" stroke-width="1.2"/>
<g fill="#000000"><circle cx="442.61" cy="210.51" r="2.75"/><circle cx="462.16" cy="210.51" r="2.75"/><circle cx="481.71" cy="209.95" r="2.75"/><circle cx="501.26" cy="210.32" r="2.75"/><circle cx="520.81" cy="203.93" r="2.75"/><circle cx="540.36" cy="138.84" r="2.75"/><circle cx="559.91" cy="121.35" r="2.75"/><circle cx="579.46" cy="85.05" r="2.75"/><circle cx="599.01" cy="23.35" r="2.75"/><circle cx="618.56" cy="23.73" r="2.75"/><circle cx="638.11" cy="81.66" r="2.75"/><circle cx="657.66" cy="96.14" r="2.75"/><circle cx="677.21" cy="105.55" r="2.75"/><circle cx="696.76" cy="127.18" r="2.75"/><circle cx="716.31" cy="176.09" r="2.75"/><circle cx="735.86" cy="210.51" r="2.75"/><circle cx="755.41" cy="211.45" r="2.75"/><circle cx="774.96" cy="211.45" r="2.75"/></g>
<path d="M442.61,211.45 L462.16,210.70 L481.71,211.64 L501.26,209.95 L520.81,202.04 L540.36,152.01 L559.91,135.27 L579.46,98.59 L599.01,27.11 L618.56,23.35 L638.11,76.02 L657.66,85.61 L677.21,93.32 L696.76,119.28 L716.31,172.89 L735.86,210.51 L755.41,211.45 L774.96,211.45" fill="none" stroke="#d95319" stroke-width="1.5" stroke-linejoin="round" clip-path="url(#cb)"/>
<path d="M442.61,209.95V212.95M440.51,209.95h4.2M440.51,212.95h4.2M462.16,209.19V212.20M460.06,209.19h4.2M460.06,212.20h4.2M481.71,210.13V213.14M479.61,210.13h4.2M479.61,213.14h4.2M501.26,208.44V211.45M499.16,208.44h4.2M499.16,211.45h4.2M520.81,200.54V203.55M518.71,200.54h4.2M518.71,203.55h4.2M540.36,150.51V153.52M538.26,150.51h4.2M538.26,153.52h4.2M559.91,133.76V136.77M557.81,133.76h4.2M557.81,136.77h4.2M579.46,97.09V100.09M577.36,97.09h4.2M577.36,100.09h4.2M599.01,25.61V28.62M596.91,25.61h4.2M596.91,28.62h4.2M618.56,21.85V24.85M616.46,21.85h4.2M616.46,24.85h4.2M638.11,74.51V77.52M636.01,74.51h4.2M636.01,77.52h4.2M657.66,84.11V87.12M655.56,84.11h4.2M655.56,87.12h4.2M677.21,91.82V94.83M675.11,91.82h4.2M675.11,94.83h4.2M696.76,117.78V120.79M694.66,117.78h4.2M694.66,120.79h4.2M716.31,171.38V174.39M714.21,171.38h4.2M714.21,174.39h4.2M735.86,209.00V212.01M733.76,209.00h4.2M733.76,212.01h4.2M755.41,209.95V212.95M753.31,209.95h4.2M753.31,212.95h4.2M774.96,209.95V212.95M772.86,209.95h4.2M772.86,212.95h4.2" fill="none" stroke="#d95319" stroke-width="1.2"/>
<g fill="#d95319"><circle cx="442.61" cy="211.45" r="2.75"/><circle cx="462.16" cy="210.70" r="2.75"/><circle cx="481.71" cy="211.64" r="2.75"/><circle cx="501.26" cy="209.95" r="2.75"/><circle cx="520.81" cy="202.04" r="2.75"/><circle cx="540.36" cy="152.01" r="2.75"/><circle cx="559.91" cy="135.27" r="2.75"/><circle cx="579.46" cy="98.59" r="2.75"/><circle cx="599.01" cy="27.11" r="2.75"/><circle cx="618.56" cy="23.35" r="2.75"/><circle cx="638.11" cy="76.02" r="2.75"/><circle cx="657.66" cy="85.61" r="2.75"/><circle cx="677.21" cy="93.32" r="2.75"/><circle cx="696.76" cy="119.28" r="2.75"/><circle cx="716.31" cy="172.89" r="2.75"/><circle cx="735.86" cy="210.51" r="2.75"/><circle cx="755.41" cy="211.45" r="2.75"/><circle cx="774.96" cy="211.45" r="2.75"/></g>
<path d="M442.61,210.32 L462.16,212.39 L481.71,213.71 L501.26,211.07 L520.81,206.18 L540.36,145.80 L559.91,129.81 L579.46,94.83 L599.01,23.35 L618.56,24.67 L638.11,72.26 L657.66,86.74 L677.21,97.09 L696.76,119.85 L716.31,173.08 L735.86,210.32 L755.41,211.45 L774.96,211.83" fill="none" stroke="#0072bd" stroke-width="1.5" stroke-linejoin="round" clip-path="url(#cb)"/>
<path d="M442.61,207.31V213.33M440.51,207.31h4.2M440.51,213.33h4.2M462.16,210.89V213.90M460.06,210.89h4.2M460.06,213.90h4.2M481.71,212.20V215.21M479.61,212.20h4.2M479.61,215.21h4.2M501.26,209.57V212.58M499.16,209.57h4.2M499.16,212.58h4.2M520.81,204.68V207.69M518.71,204.68h4.2M518.71,207.69h4.2M540.36,144.30V147.31M538.26,144.30h4.2M538.26,147.31h4.2M559.91,128.31V131.32M557.81,128.31h4.2M557.81,131.32h4.2M579.46,93.32V96.33M577.36,93.32h4.2M577.36,96.33h4.2M599.01,21.85V24.85M596.91,21.85h4.2M596.91,24.85h4.2M618.56,23.16V26.17M616.46,23.16h4.2M616.46,26.17h4.2M638.11,68.49V76.02M636.01,68.49h4.2M636.01,76.02h4.2M657.66,85.23V88.24M655.56,85.23h4.2M655.56,88.24h4.2M677.21,95.58V98.59M675.11,95.58h4.2M675.11,98.59h4.2M696.76,118.34V121.35M694.66,118.34h4.2M694.66,121.35h4.2M716.31,171.57V174.58M714.21,171.57h4.2M714.21,174.58h4.2M735.86,208.82V211.83M733.76,208.82h4.2M733.76,211.83h4.2M755.41,209.95V212.95M753.31,209.95h4.2M753.31,212.95h4.2M774.96,210.32V213.33M772.86,210.32h4.2M772.86,213.33h4.2" fill="none" stroke="#0072bd" stroke-width="1.2"/>
<g fill="#0072bd"><circle cx="442.61" cy="210.32" r="2.75"/><circle cx="462.16" cy="212.39" r="2.75"/><circle cx="481.71" cy="213.71" r="2.75"/><circle cx="501.26" cy="211.07" r="2.75"/><circle cx="520.81" cy="206.18" r="2.75"/><circle cx="540.36" cy="145.80" r="2.75"/><circle cx="559.91" cy="129.81" r="2.75"/><circle cx="579.46" cy="94.83" r="2.75"/><circle cx="599.01" cy="23.35" r="2.75"/><circle cx="618.56" cy="24.67" r="2.75"/><circle cx="638.11" cy="72.26" r="2.75"/><circle cx="657.66" cy="86.74" r="2.75"/><circle cx="677.21" cy="97.09" r="2.75"/><circle cx="696.76" cy="119.85" r="2.75"/><circle cx="716.31" cy="173.08" r="2.75"/><circle cx="735.86" cy="210.32" r="2.75"/><circle cx="755.41" cy="211.45" r="2.75"/><circle cx="774.96" cy="211.83" r="2.75"/></g>
</g>
<path d="M284.10,14.10H297.50M290.60,10.00V18.20M289.30,10.00h2.6M289.30,18.20h2.6" stroke="#e3e3e3" stroke-width="1.25" fill="none"/>
<circle cx="290.60" cy="14.10" r="1.2" fill="#e3e3e3"/>
<text x="298.60" y="18.30" class="lg">00 kV - <tspan x="335.55">C</tspan><tspan class="sub" x="342.65" dy="3.40">2</tspan><tspan x="346.21" dy="-3.40">H</tspan><tspan class="sub" x="353.75" dy="3.40">2</tspan><tspan class="sup" x="357.93" dy="-7.20">+</tspan></text>
<path d="M284.10,26.70H297.50M290.60,22.60V30.80M289.30,22.60h2.6M289.30,30.80h2.6" stroke="#d8d8d8" stroke-width="1.25" fill="none"/>
<circle cx="290.60" cy="26.70" r="1.2" fill="#d8d8d8"/>
<text x="298.60" y="30.90" class="lg">00 kV - <tspan x="335.21">Br</tspan><tspan class="sup" x="346.63" dy="-3.80">+</tspan></text>
<path d="M284.10,39.30H297.50M290.60,35.20V43.40M289.30,35.20h2.6M289.30,43.40h2.6" stroke="#b5b5b5" stroke-width="1.25" fill="none"/>
<circle cx="290.60" cy="39.30" r="1.2" fill="#b5b5b5"/>
<text x="298.60" y="43.50" class="lg">00 kV - <tspan x="335.55">C</tspan><tspan class="sub" x="342.65" dy="3.40">2</tspan><tspan x="346.21" dy="-3.40">H</tspan><tspan class="sub" x="353.75" dy="3.40">2</tspan><tspan x="357.11" dy="-3.40">Br</tspan><tspan class="sup" x="368.53" dy="-3.80">+</tspan></text>
<path d="M284.10,51.90H297.50M290.60,47.80V56.00M289.30,47.80h2.6M289.30,56.00h2.6" stroke="#9c9c9c" stroke-width="1.25" fill="none"/>
<circle cx="290.60" cy="51.90" r="1.2" fill="#9c9c9c"/>
<text x="298.60" y="56.10" class="lg">00 kV - <tspan x="335.55">C</tspan><tspan class="sub" x="342.65" dy="3.40">2</tspan><tspan x="346.21" dy="-3.40">H</tspan><tspan class="sub" x="353.75" dy="3.40">2</tspan><tspan x="357.11" dy="-3.40">Br</tspan><tspan class="sub" x="367.45" dy="3.40">2</tspan><tspan class="sup" x="372.03" dy="-7.20">+</tspan></text>
<path d="M284.10,64.50H297.50M290.60,60.40V68.60M289.30,60.40h2.6M289.30,68.60h2.6" stroke="#77ac30" stroke-width="1.25" fill="none"/>
<circle cx="290.60" cy="64.50" r="1.2" fill="#77ac30"/>
<text x="298.60" y="68.70" class="lg">35 kV - <tspan x="335.55">C</tspan><tspan class="sub" x="342.65" dy="3.40">2</tspan><tspan x="346.21" dy="-3.40">H</tspan><tspan class="sub" x="353.75" dy="3.40">2</tspan><tspan class="sup" x="357.93" dy="-7.20">+</tspan></text>
<path d="M284.10,77.10H297.50M290.60,73.00V81.20M289.30,73.00h2.6M289.30,81.20h2.6" stroke="#000000" stroke-width="1.25" fill="none"/>
<circle cx="290.60" cy="77.10" r="1.2" fill="#000000"/>
<text x="298.60" y="81.30" class="lg">35 kV - <tspan x="335.21">Br</tspan><tspan class="sup" x="346.63" dy="-3.80">+</tspan></text>
<path d="M284.10,89.70H297.50M290.60,85.60V93.80M289.30,85.60h2.6M289.30,93.80h2.6" stroke="#d95319" stroke-width="1.25" fill="none"/>
<circle cx="290.60" cy="89.70" r="1.2" fill="#d95319"/>
<text x="298.60" y="93.90" class="lg">35 kV - <tspan x="335.55">C</tspan><tspan class="sub" x="342.65" dy="3.40">2</tspan><tspan x="346.21" dy="-3.40">H</tspan><tspan class="sub" x="353.75" dy="3.40">2</tspan><tspan x="357.11" dy="-3.40">Br</tspan><tspan class="sup" x="368.53" dy="-3.80">+</tspan></text>
<path d="M284.10,102.30H297.50M290.60,98.20V106.40M289.30,98.20h2.6M289.30,106.40h2.6" stroke="#0072bd" stroke-width="1.25" fill="none"/>
<circle cx="290.60" cy="102.30" r="1.2" fill="#0072bd"/>
<text x="298.60" y="106.50" class="lg">35 kV - <tspan x="335.55">C</tspan><tspan class="sub" x="342.65" dy="3.40">2</tspan><tspan x="346.21" dy="-3.40">H</tspan><tspan class="sub" x="353.75" dy="3.40">2</tspan><tspan x="357.11" dy="-3.40">Br</tspan><tspan class="sub" x="367.45" dy="3.40">2</tspan><tspan class="sup" x="372.03" dy="-7.20">+</tspan></text>
<path d="M685.70,14.10H699.10M692.20,10.00V18.20M690.90,10.00h2.6M690.90,18.20h2.6" stroke="#e3e3e3" stroke-width="1.25" fill="none"/>
<circle cx="692.20" cy="14.10" r="1.2" fill="#e3e3e3"/>
<text x="700.20" y="18.30" class="lg">00 kV - <tspan x="737.15">C</tspan><tspan class="sub" x="744.25" dy="3.40">2</tspan><tspan x="747.81" dy="-3.40">H</tspan><tspan class="sub" x="755.35" dy="3.40">2</tspan><tspan class="sup" x="759.53" dy="-7.20">+</tspan></text>
<path d="M685.70,26.70H699.10M692.20,22.60V30.80M690.90,22.60h2.6M690.90,30.80h2.6" stroke="#d8d8d8" stroke-width="1.25" fill="none"/>
<circle cx="692.20" cy="26.70" r="1.2" fill="#d8d8d8"/>
<text x="700.20" y="30.90" class="lg">00 kV - <tspan x="736.81">Br</tspan><tspan class="sup" x="748.23" dy="-3.80">+</tspan></text>
<path d="M685.70,39.30H699.10M692.20,35.20V43.40M690.90,35.20h2.6M690.90,43.40h2.6" stroke="#b5b5b5" stroke-width="1.25" fill="none"/>
<circle cx="692.20" cy="39.30" r="1.2" fill="#b5b5b5"/>
<text x="700.20" y="43.50" class="lg">00 kV - <tspan x="737.15">C</tspan><tspan class="sub" x="744.25" dy="3.40">2</tspan><tspan x="747.81" dy="-3.40">H</tspan><tspan class="sub" x="755.35" dy="3.40">2</tspan><tspan x="758.71" dy="-3.40">Br</tspan><tspan class="sup" x="770.13" dy="-3.80">+</tspan></text>
<path d="M685.70,51.90H699.10M692.20,47.80V56.00M690.90,47.80h2.6M690.90,56.00h2.6" stroke="#9c9c9c" stroke-width="1.25" fill="none"/>
<circle cx="692.20" cy="51.90" r="1.2" fill="#9c9c9c"/>
<text x="700.20" y="56.10" class="lg">00 kV - <tspan x="737.15">C</tspan><tspan class="sub" x="744.25" dy="3.40">2</tspan><tspan x="747.81" dy="-3.40">H</tspan><tspan class="sub" x="755.35" dy="3.40">2</tspan><tspan x="758.71" dy="-3.40">Br</tspan><tspan class="sub" x="769.05" dy="3.40">2</tspan><tspan class="sup" x="773.63" dy="-7.20">+</tspan></text>
<path d="M685.70,64.50H699.10M692.20,60.40V68.60M690.90,60.40h2.6M690.90,68.60h2.6" stroke="#77ac30" stroke-width="1.25" fill="none"/>
<circle cx="692.20" cy="64.50" r="1.2" fill="#77ac30"/>
<text x="700.20" y="68.70" class="lg">35 kV - <tspan x="737.15">C</tspan><tspan class="sub" x="744.25" dy="3.40">2</tspan><tspan x="747.81" dy="-3.40">H</tspan><tspan class="sub" x="755.35" dy="3.40">2</tspan><tspan class="sup" x="759.53" dy="-7.20">+</tspan></text>
<path d="M685.70,77.10H699.10M692.20,73.00V81.20M690.90,73.00h2.6M690.90,81.20h2.6" stroke="#000000" stroke-width="1.25" fill="none"/>
<circle cx="692.20" cy="77.10" r="1.2" fill="#000000"/>
<text x="700.20" y="81.30" class="lg">35 kV - <tspan x="736.81">Br</tspan><tspan class="sup" x="748.23" dy="-3.80">+</tspan></text>
<path d="M685.70,89.70H699.10M692.20,85.60V93.80M690.90,85.60h2.6M690.90,93.80h2.6" stroke="#d95319" stroke-width="1.25" fill="none"/>
<circle cx="692.20" cy="89.70" r="1.2" fill="#d95319"/>
<text x="700.20" y="93.90" class="lg">35 kV - <tspan x="737.15">C</tspan><tspan class="sub" x="744.25" dy="3.40">2</tspan><tspan x="747.81" dy="-3.40">H</tspan><tspan class="sub" x="755.35" dy="3.40">2</tspan><tspan x="758.71" dy="-3.40">Br</tspan><tspan class="sup" x="770.13" dy="-3.80">+</tspan></text>
<path d="M685.70,102.30H699.10M692.20,98.20V106.40M690.90,98.20h2.6M690.90,106.40h2.6" stroke="#0072bd" stroke-width="1.25" fill="none"/>
<circle cx="692.20" cy="102.30" r="1.2" fill="#0072bd"/>
<text x="700.20" y="106.50" class="lg">35 kV - <tspan x="737.15">C</tspan><tspan class="sub" x="744.25" dy="3.40">2</tspan><tspan x="747.81" dy="-3.40">H</tspan><tspan class="sub" x="755.35" dy="3.40">2</tspan><tspan x="758.71" dy="-3.40">Br</tspan><tspan class="sub" x="769.05" dy="3.40">2</tspan><tspan class="sup" x="773.63" dy="-7.20">+</tspan></text>
<text x="64.26" y="228.0" text-anchor="middle" class="t">-2</text>
<text x="121.46" y="228.0" text-anchor="middle" class="t">-1</text>
<text x="178.66" y="228.0" text-anchor="middle" class="t">0</text>
<text x="235.86" y="228.0" text-anchor="middle" class="t">1</text>
<text x="293.06" y="228.0" text-anchor="middle" class="t">2</text>
<text x="350.26" y="228.0" text-anchor="middle" class="t">3</text>
<text x="32.30" y="215.35" text-anchor="end" class="t">0</text>
<text x="32.30" y="177.70" text-anchor="end" class="t">0.2</text>
<text x="32.30" y="140.05" text-anchor="end" class="t">0.4</text>
<text x="32.30" y="102.40" text-anchor="end" class="t">0.6</text>
<text x="32.30" y="64.75" text-anchor="end" class="t">0.8</text>
<text x="32.30" y="27.10" text-anchor="end" class="t">1</text>
<text x="207.30" y="242.3" text-anchor="middle" class="t">Deflection coordinate <tspan font-style="italic">y</tspan> (mm)</text>
<text transform="translate(13.20,108.6) rotate(-90)" text-anchor="middle" class="t">Integrated normalised signal (a.u.)</text>
<text x="0.50" y="10.2" class="t">(a)</text>
<text x="465.06" y="228.5" text-anchor="middle" class="t">-2</text>
<text x="522.26" y="228.5" text-anchor="middle" class="t">-1</text>
<text x="579.46" y="228.5" text-anchor="middle" class="t">0</text>
<text x="636.66" y="228.5" text-anchor="middle" class="t">1</text>
<text x="693.86" y="228.5" text-anchor="middle" class="t">2</text>
<text x="751.06" y="228.5" text-anchor="middle" class="t">3</text>
<text x="433.10" y="215.75" text-anchor="end" class="t">0</text>
<text x="433.10" y="178.13" text-anchor="end" class="t">0.2</text>
<text x="433.10" y="140.51" text-anchor="end" class="t">0.4</text>
<text x="433.10" y="102.89" text-anchor="end" class="t">0.6</text>
<text x="433.10" y="65.27" text-anchor="end" class="t">0.8</text>
<text x="433.10" y="27.65" text-anchor="end" class="t">1</text>
<text x="607.10" y="242.6" text-anchor="middle" class="t">Deflection coordinate <tspan font-style="italic">y</tspan> (mm)</text>
<text transform="translate(414.00,110.3) rotate(-90)" text-anchor="middle" class="t">Integrated normalised signal (a.u.)</text>
<text x="403.30" y="10.2" class="t">(b)</text>
</svg>
</body></html>
